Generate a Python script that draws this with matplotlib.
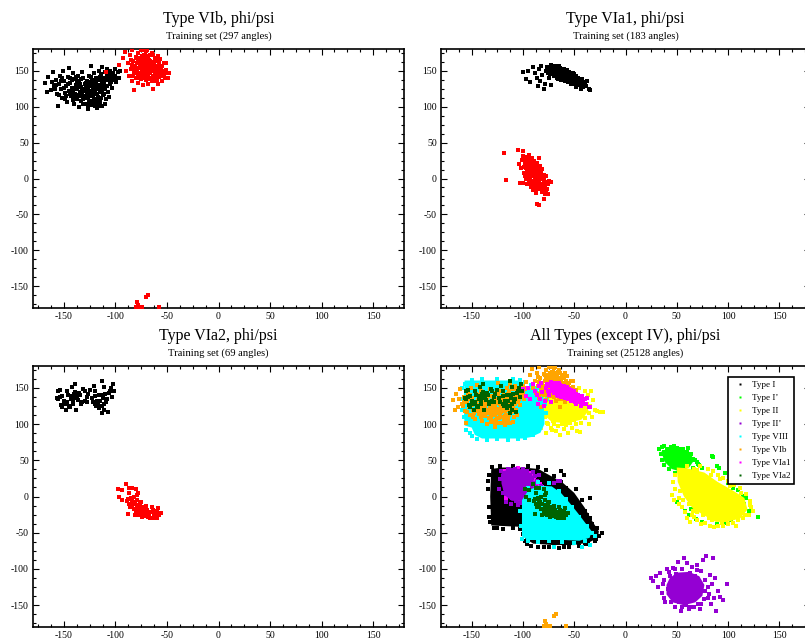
import matplotlib
matplotlib.use('Agg')
import matplotlib.pyplot as plt
from matplotlib.lines import Line2D
from matplotlib.ticker import MultipleLocator
import numpy as np

plt.rcParams['font.family'] = ['Liberation Serif', 'DejaVu Serif']
plt.rcParams['axes.unicode_minus'] = False

# ---- turn VIb (297 angles): residue i+1 (black) and i+2 (red)
vib_i1 = [(-168,133),(-165,141),(-163,123),(-161,148),(-160,128),(-158,137),(-157,118),(-156,101),(-155,131),(-154,143),
          (-153,124),(-152,112),(-151,150),(-150,136),(-149,119),(-148,128),(-147,107),(-146,141),(-145,154),(-145,122),
          (-144,133),(-143,114),(-142,126),(-141,146),(-140,104),(-140,138),(-139,118),(-138,130),(-137,124),(-137,111),
          (-136,142),(-135,135),(-135,100),(-134,120),(-133,127),(-133,108),(-132,148),(-131,115),(-131,139),(-130,131),
          (-130,122),(-129,104),(-128,136),(-128,112),(-127,125),(-127,96),(-126,143),(-126,118),(-125,130),(-125,108),
          (-124,157),(-124,121),(-123,137),(-123,102),(-122,114),(-122,127),(-121,146),(-121,110),(-120,133),(-120,119),
          (-119,105),(-119,140),(-118,124),(-118,98),(-117,130),(-117,113),(-116,150),(-116,137),(-115,120),(-115,107),
          (-114,145),(-114,128),(-113,155),(-113,101),(-112,140),(-112,116),(-111,133),(-110,148),(-110,124),(-109,110),
          (-108,142),(-108,152),(-107,137),(-106,145),(-105,131),(-105,150),(-104,140),(-103,126),(-102,147),(-101,137),
          (-100,152),(-100,143),(-99,134),(-98,148),(-97,139),(-96,150),
          (-143,120),(-139,126),(-136,116),(-134,131),(-132,119),(-129,127),(-127,113),(-124,134),(-121,123),(-119,129),
          (-141,109),(-137,136),(-131,103),(-126,106),(-123,118),(-118,111),(-116,101),(-113,123),(-130,115),(-135,127),
          (-144,140),(-148,115),(-152,140),(-159,125),(-162,134),(-166,120),(-110,103),(-112,130),(-107,120),(-106,113),
          (-158,130),(-155,116),(-153,135),(-150,126),(-149,110),(-146,131),(-144,118),(-142,137),(-141,121),(-139,112),
          (-138,141),(-136,128),(-134,115),(-133,138),(-132,125),(-131,110),(-129,133),(-128,120),(-127,101),(-126,129),
          (-125,115),(-124,141),(-123,108),(-122,133),(-121,117),(-120,101),(-119,135),(-118,118),(-117,106),(-116,126),
          (-115,141),(-114,112),(-113,134),(-111,118),(-109,137),(-108,128),(-106,140),(-104,134),(-102,142),(-100,138)]
vib_i2 = [(-97,158),(-93,167),(-91,176),(-90,149),(-88,160),(-87,143),(-86,171),(-85,152),(-84,136),(-84,178),
          (-83,163),(-82,123),(-82,147),(-81,157),(-80,169),(-80,140),(-79,152),(-78,175),(-78,133),(-77,161),
          (-77,146),(-76,155),(-76,168),(-75,138),(-75,179),(-74,150),(-74,162),(-73,143),(-73,130),(-72,157),
          (-72,172),(-71,148),(-71,165),(-70,137),(-70,154),(-70,177),(-69,160),(-69,144),(-68,132),(-68,151),
          (-68,170),(-67,156),(-67,140),(-66,163),(-66,147),(-65,175),(-65,135),(-64,152),(-64,124),(-63,160),
          (-63,143),(-62,168),(-62,149),(-61,138),(-61,156),(-60,146),(-60,163),(-59,131),(-58,153),(-58,141),
          (-57,166),(-56,148),(-55,136),(-55,157),(-54,144),(-53,160),(-52,139),(-51,151),(-50,146),(-49,140),
          (-51,160),(-48,147),(-109,148),
          (-79,160),(-76,147),(-74,170),(-72,139),(-71,158),(-69,166),(-67,148),(-66,155),(-64,141),(-62,157),
          (-60,152),(-59,170),(-77,140),(-73,155),(-70,145),(-68,162),(-65,158),(-63,135),(-75,165),(-82,155),
          (-80,146),(-78,163),(-69,178),(-73,178),(-85,165),(-66,172),(-61,142),(-57,150),(-60,136),(-83,142),
          (-84,158),(-81,149),(-79,168),(-78,143),(-77,153),(-76,160),(-75,145),(-74,157),(-73,166),(-72,150),
          (-71,141),(-70,160),(-69,152),(-68,145),(-67,165),(-66,138),(-65,150),(-64,162),(-63,153),(-62,144),
          (-61,165),(-60,157),(-59,147),(-58,160),(-57,143),(-56,155),(-54,150),(-53,142),(-71,172),(-64,171),
          (-79,-172),(-78,-176),(-76,-178),(-74,-178),(-70,-165),(-68,-162),(-58,-178),(-80,-178)]

# ---- turn VIa1 (183 angles)
via1_i1 = [(-100,148),(-97,138),(-95,150),(-93,134),(-90,155),(-88,146),(-86,140),(-85,128),(-84,152),(-83,135),
           (-82,157),(-81,144),(-80,125),(-79,132),(-78,150),(-77,155),(-76,146),(-75,140),(-74,152),(-73,130),
           (-73,158),(-72,147),(-71,153),(-70,143),(-70,150),(-69,156),(-68,145),(-67,149),(-67,140),(-66,153),
           (-65,146),(-65,157),(-64,142),(-64,150),(-63,137),(-63,147),(-62,152),(-62,143),(-61,148),(-61,139),
           (-60,145),(-60,152),(-59,141),(-59,136),(-58,148),(-58,143),(-57,139),(-57,146),(-56,134),(-56,142),
           (-55,148),(-55,138),(-54,144),(-54,135),(-53,140),(-53,147),(-52,137),(-52,143),(-51,133),(-51,140),
           (-50,145),(-50,136),(-49,141),(-49,131),(-48,138),(-48,127),(-47,134),(-46,140),(-46,130),(-45,136),
           (-44,132),(-43,125),(-42,138),(-41,130),(-40,134),(-39,128),(-38,136),(-36,124),(-35,123),(-68,153),
           (-66,138),(-62,147),(-57,151),(-53,132),(-59,149),(-64,146),(-70,147),(-55,143),(-60,139),(-50,140),
           (-72,151),(-69,149),(-67,144),(-66,150),(-64,154),(-63,142),(-61,144),(-60,149),(-58,138),(-57,143),
           (-56,147),(-55,140),(-54,138),(-53,144),(-52,140),(-51,146),(-50,133),(-49,137),(-48,142),(-47,130),
           (-46,136),(-45,132),(-44,137),(-43,130),(-42,134),(-41,127),(-58,145),(-62,140),(-65,149),(-74,145)]
via1_i2 = [(-119,35),(-117,-2),(-105,40),(-104,20),(-103,-6),(-102,14),(-101,26),(-100,-6),(-100,38),(-99,8),
           (-98,22),(-98,30),(-97,-1),(-97,15),(-96,27),(-96,5),(-95,19),(-95,-8),(-94,32),(-94,11),
           (-93,24),(-93,0),(-92,16),(-92,-12),(-92,29),(-91,7),(-91,21),(-90,-3),(-90,12),(-90,-16),
           (-89,25),(-89,3),(-88,18),(-88,-8),(-88,9),(-87,-20),(-87,14),(-87,0),(-86,22),(-86,-35),
           (-86,6),(-85,-12),(-85,11),(-84,-4),(-84,29),(-84,-37),(-83,17),(-83,-15),(-83,3),(-82,-8),
           (-82,8),(-81,-19),(-81,13),(-80,-2),(-80,-28),(-80,5),(-79,-12),(-79,-21),(-78,-5),(-78,3),
           (-77,-14),(-76,-22),(-76,-8),(-75,-3),(-73,-5),(-92,3),(-94,-2),(-96,12),(-90,20),(-89,-8),
           (-86,13),(-85,2),(-95,27),(-91,-6),(-88,-1),(-84,8),(-82,-1),(-98,4),(-93,7),(-87,-14),
           (-100,31),(-96,-7),
           (-97,20),(-95,8),(-94,16),(-93,-5),(-92,9),(-91,14),(-90,5),(-89,12),(-89,-12),(-88,2),
           (-87,7),(-86,-3),(-86,-10),(-85,16),(-84,-8),(-83,10),(-82,-12),(-81,0),(-80,-15),(-79,-6),
           (-78,-18),(-99,16),(-97,24),(-93,18),(-91,29)]

# ---- turn VIa2 (69 angles)
via2_i1 = [(-156,145),(-154,147),(-157,136),(-154,137),(-152,138),(-153,126),(-152,124),(-149,127),(-148,120),(-147,131),
           (-145,125),(-144,123),(-147,145),(-142,151),(-142,139),(-140,142),(-139,155),(-139,144),(-137,139),(-140,136),
           (-143,135),(-141,132),(-138,119),(-136,133),(-134,140),(-131,148),(-130,146),(-132,131),(-130,132),(-128,137),
           (-127,142),(-123,136),(-121,153),(-120,146),(-120,138),(-120,128),(-119,125),(-116,122),(-118,132),(-116,140),
           (-114,140),(-113,159),(-111,151),(-112,136),(-111,128),(-111,120),(-113,115),(-107,116),(-109,130),(-106,143),
           (-105,145),(-103,137),(-102,155),(-101,145),(-108,135),(-115,132),
           (-146,140),(-133,128),(-125,147),(-150,132),(-135,143),(-117,128),(-104,150),(-110,142),(-128,130),(-141,128),
           (-122,131),(-156,134),(-113,125)]
via2_i2 = [(-90,17),(-98,11),(-94,9),(-87,12),(-84,12),(-80,11),(-87,5),(-82,0),(-79,2),(-78,5),
           (-97,-1),(-94,-5),(-88,-3),(-84,-6),(-79,-5),(-75,-7),(-87,-11),(-84,-12),(-81,-11),(-79,-12),
           (-76,-13),(-74,-15),(-86,-15),(-82,-17),(-79,-17),(-77,-19),(-74,-18),(-72,-17),(-69,-19),(-71,-22),
           (-68,-21),(-79,-23),(-75,-24),(-72,-24),(-70,-25),(-67,-24),(-88,-24),(-81,-26),(-77,-26),(-74,-28),
           (-71,-27),(-68,-28),(-65,-15),(-64,-18),(-61,-20),(-63,-23),(-60,-22),(-58,-24),(-56,-23),(-63,-26),
           (-61,-27),(-58,-26),(-63,-30),(-60,-30),(-66,-29),(-61,-29),(-59,-16),
           (-83,-8),(-77,-15),(-73,-20),(-80,-20),(-70,-13),(-85,-2),(-76,-9),(-67,-27),(-62,-25),(-78,-24),
           (-89,-6),(-66,-22)]

# ---- all types: dense cores (outlines) and scattered points
typeI_core = [(-131,38),(-120,40),(-100,40),(-85,38),(-75,30),(-62,20),(-50,5),(-40,-15),(-32,-35),(-26,-48),
              (-27,-57),(-35,-63),(-50,-67),(-70,-67),(-90,-65),(-98,-58),(-100,-42),(-115,-41),(-131,-40),(-132,0)]
typeI_pts = [(-133,30),(-134,10),(-133,-15),(-132,-35),(-128,-43),(-120,-45),(-110,-44),(-103,-45),(-100,-52),(-98,-62),
             (-92,-68),(-85,-70),(-75,-70),(-65,-71),(-55,-70),(-45,-68),(-37,-66),(-30,-62),(-26,-55),(-23,-50),
             (-28,-44),(-33,-38),(-35,-30),(-35,-2),(-40,-20),(-45,-10),(-52,0),(-58,12),(-63,20),(-63,35),
             (-70,28),(-78,36),(-85,41),(-95,42),(-110,42),(-122,42),(-130,41),(-60,30),(-48,10),(-42,-5),
             (-134,22),(-133,-28),(-125,-44),(-96,-66),(-80,-69),(-60,-69),(-40,-66),(-29,-58),(-31,-45),(-38,-25)]
typeI1_core = [(35,62),(45,68),(55,66),(63,60),(67,50),(62,40),(52,35),(45,38),(38,48)]
typeI1_pts = [(33,65),(35,58),(36,68),(38,62),(40,66),(42,55),(44,68),(47,70),(50,67),(53,65),
              (56,66),(58,60),(60,62),(64,58),(66,52),(68,50),(70,47),(66,40),(60,34),(54,32),
              (48,33),(42,38),(38,44),(36,50),(72,44),(75,40),(38,70),(61,67),
              (50,-8),(64,-17),(68,-19),(73,-18),(81,-20),(89,-38),(98,-36),(110,-27),(116,-11),(115,1),
              (110,9),(97,33),(84,56),(89,42),(71,45),(129,-28),(69,-31),(85,54),(91,40),(75,-35),
              (103,-32),(120,-20),(118,-2),(58,-20),(62,-25),(105,12),(100,18)]
typeII_core_top = [(-80,142),(-65,146),(-50,142),(-40,132),(-36,118),(-43,106),(-58,101),(-72,103),(-80,113),(-83,130)]
typeII_core_right = [(50,40),(60,39),(77,33),(90,20),(105,8),(116,-2),(119,-18),(112,-30),(100,-35),(88,-35),
                     (78,-27),(66,-17),(57,0),(51,20)]
typeII_pts = [(-85,120),(-84,105),(-82,95),(-80,140),(-79,110),(-78,88),(-76,100),(-75,148),(-73,95),(-72,92),
              (-70,100),(-68,90),(-66,97),(-64,85),(-62,100),(-60,93),(-58,98),(-56,88),(-54,102),(-52,95),
              (-50,105),(-48,100),(-47,90),(-45,112),(-43,102),(-42,120),(-40,108),(-38,128),(-36,115),(-35,125),
              (-33,110),(-32,133),(-30,120),(-28,118),(-25,116),(-22,116),(-37,140),(-34,145),(-40,146),(-45,150),
              (-87,133),(-88,113),(-83,150),(-74,150),(-36,100),(-44,89),(-57,104),(-65,106),(-71,104),(-77,102),
              (45,2),(47,-5),(48,10),(52,-10),(55,-15),(58,-22),(60,-30),(63,-35),(67,-28),(70,-33),
              (74,-38),(78,-36),(82,-40),(86,-42),(90,-40),(95,-40),(100,-38),(105,-36),(110,-33),(115,-30),
              (120,-25),(122,-15),(121,-6),(118,4),(112,12),(106,16),(100,22),(95,26),(90,30),(85,35),
              (80,38),(73,42),(67,38),(108,-40),(98,-33),(92,-28),(84,-32),(76,-25),(66,-20),(56,-5),
              (46,20),(48,30),(53,8),(55,30),(62,-10),(70,-22),(81,-30),(94,-37),(104,-30),(117,-26),
              (121,-12),(113,5),(102,14),(92,24),(83,30),(70,36),(60,42),(124,-20),(65,-26),(52,-2)]
typeII2_core_left = [(-121,34),(-110,39),(-99,37),(-91,30),(-89,16),(-93,3),(-101,-6),(-111,-6),(-118,2),(-121,18)]
typeII2_core = [(43,-113),(50,-105),(62,-104),(72,-110),(77,-122),(75,-137),(68,-146),(57,-150),(46,-146),(40,-135),(40,-122)]
typeII2_pts = [(25,-113),(27,-117),(30,-110),(32,-125),(34,-105),(36,-133),(38,-115),(38,-140),(40,-100),(41,-128),
               (43,-110),(44,-145),(45,-120),(46,-98),(47,-135),(48,-152),(49,-107),(50,-128),(51,-90),(52,-145),
               (53,-115),(54,-158),(55,-100),(56,-138),(57,-85),(58,-120),(59,-150),(60,-92),(61,-132),(62,-155),
               (63,-105),(64,-143),(65,-97),(66,-125),(67,-152),(68,-110),(69,-138),(70,-95),(71,-148),(72,-118),
               (73,-155),(74,-103),(75,-130),(76,-88),(77,-142),(78,-115),(79,-82),(80,-125),(81,-135),(82,-108),
               (83,-148),(84,-120),(85,-85),(86,-140),(87,-113),(88,-158),(90,-130),(92,-138),(95,-143),(99,-120),
               (37,-120),(39,-145),(42,-104),(48,-100),(55,-153),(63,-152),(70,-102),(78,-130),(80,-140),(74,-148),
               (-121,35),(-120,28),(-119,20),(-118,12),(-118,33),(-117,4),(-116,25),(-115,38),(-115,16),(-114,30),
               (-113,8),(-113,22),(-112,36),(-111,14),(-111,-2),(-110,27),(-110,32),(-109,18),(-109,6),(-108,38),
               (-108,24),(-107,11),(-107,-6),(-106,30),(-106,19),(-105,35),(-105,3),(-104,26),(-104,14),(-103,-9),
               (-103,21),(-102,33),(-102,8),(-101,28),(-101,16),(-100,-3),(-100,38),(-99,23),(-99,11),(-98,31),
               (-98,4),(-97,18),(-97,-10),(-96,26),(-96,35),(-95,13),(-95,-4),(-94,21),(-93,30),(-93,7),
               (-92,16),(-91,-1),(-91,25),(-90,34),(-90,10),(-89,19),(-88,3),(-88,28),(-87,13),(-86,22),
               (-85,6),(-84,30),(-117,-8),(-112,-10),(-105,-12),(-99,-14),(-94,-12),(-123,10),(-122,24),(-120,5),
               (-66,21),(-64,22),(-82,15),(-80,-5),(-78,2),(-84,-10),(-76,10),(-72,-8),(-70,18),(-106,0)]
typeVIII_core_top = [(-157,160),(-103,160),(-100,152),(-88,150),(-80,140),(-79,100),(-83,88),(-92,82),(-100,80),
                     (-140,80),(-147,85),(-150,95),(-157,98),(-158,130)]
typeVIII_core_low = [(-101,-5),(-95,8),(-85,15),(-72,14),(-63,5),(-55,-8),(-47,-22),(-40,-35),(-33,-48),(-35,-57),
                     (-45,-61),(-60,-60),(-80,-60),(-95,-60),(-101,-55)]
typeVIII_pts = [(-160,150),(-158,110),(-156,92),(-155,102),(-152,88),(-150,83),(-145,80),(-135,78),(-125,79),(-115,78),
                (-105,79),(-98,81),(-90,85),(-85,92),(-81,105),(-78,115),(-79,128),(-82,145),(-86,150),(-92,154),
                (-98,158),(-103,161),(-110,162),(-125,162),(-140,162),(-150,161),(-157,155),(-159,135),(-160,120),(-77,135),
                (-103,-20),(-102,-40),(-101,-58),(-95,-62),(-85,-63),(-75,-62),(-62,-63),(-50,-64),(-40,-62),(-35,-67),
                (-30,-55),(-33,-50),(-38,-40),(-45,-28),(-52,-15),(-58,-3),(-65,8),(-75,18),(-85,20),(-95,12),
                (-70,-70),(-42,-70)]

panels = [
    ('Type VIb, phi/psi', 'Training set (297 angles)', vib_i1, vib_i2),
    ('Type VIa1, phi/psi', 'Training set (183 angles)', via1_i1, via1_i2),
    ('Type VIa2, phi/psi', 'Training set (69 angles)', via2_i1, via2_i2),
]
legend_names = ['Type I', 'Type I\u2019', 'Type II', 'Type II\u2019', 'Type VIII', 'Type VIb', 'Type VIa1', 'Type VIa2']
legend_colors = ['black', '#00ff00', '#ffff00', '#9400d3', '#00ffff', '#ffa500', '#ff00ff', '#006400']

MS = 5


def style_axes(ax):
    ax.set_xlim(-180, 180)
    ax.set_ylim(-180, 180)
    ax.xaxis.set_major_locator(MultipleLocator(50))
    ax.yaxis.set_major_locator(MultipleLocator(50))
    ax.xaxis.set_minor_locator(MultipleLocator(12.5))
    ax.yaxis.set_minor_locator(MultipleLocator(12.5))
    ax.tick_params(which='both', direction='in', top=True, right=True, width=0.8, labelsize=7, pad=3)
    ax.tick_params(which='major', length=4)
    ax.tick_params(which='minor', length=2)
    for s in ax.spines.values():
        s.set_linewidth(1.2)


def add_titles(ax, title, subtitle):
    ax.annotate(title, xy=(0.5, 1), xycoords='axes fraction', xytext=(0, 30), textcoords='offset pixels',
                ha='center', va='center', fontsize=11.5)
    ax.annotate(subtitle, xy=(0.5, 1), xycoords='axes fraction', xytext=(0, 13), textcoords='offset pixels',
                ha='center', va='center', fontsize=7.6)


def dots(ax, pts, color, z):
    a = np.array(pts, dtype=float)
    ax.scatter(a[:, 0], a[:, 1], s=MS, marker='s', c=color, linewidths=0, zorder=z)


def blob(ax, poly, color, z):
    a = np.array(poly, dtype=float)
    ax.fill(a[:, 0], a[:, 1], color=color, lw=0, zorder=z)


fig = plt.figure(figsize=(8.05, 6.4), dpi=100)
boxes = [
    [33 / 805, 332 / 640, 371 / 805, 259 / 640],
    [441 / 805, 332 / 640, 369 / 805, 259 / 640],
    [33 / 805, 13 / 640, 371 / 805, 261 / 640],
    [441 / 805, 13 / 640, 369 / 805, 261 / 640],
]
axes = [fig.add_axes(b) for b in boxes]

for ax, (title, sub, first, second) in zip(axes[:3], panels):
    style_axes(ax)
    add_titles(ax, title, sub)
    dots(ax, first, 'black', 3)
    dots(ax, second, 'red', 3)

ax = axes[3]
style_axes(ax)
add_titles(ax, 'All Types (except IV), phi/psi', 'Training set (25128 angles)')
c = dict(zip(legend_names, legend_colors))
blob(ax, typeI_core, c['Type I'], 2)
dots(ax, typeI_pts, c['Type I'], 2.1)
blob(ax, typeI1_core, c['Type I\u2019'], 2.2)
dots(ax, typeI1_pts, c['Type I\u2019'], 2.2)
blob(ax, typeII_core_top, c['Type II'], 2.4)
blob(ax, typeII_core_right, c['Type II'], 2.4)
dots(ax, typeII_pts, c['Type II'], 2.4)
# VIa1 i+2 cloud sits underneath the II' points in the reference
dots(ax, via1_i2, c['Type VIa1'], 2.5)
blob(ax, typeII2_core_left, c['Type II\u2019'], 2.6)
blob(ax, typeII2_core, c['Type II\u2019'], 2.6)
dots(ax, typeII2_pts, c['Type II\u2019'], 2.6)
blob(ax, typeVIII_core_top, c['Type VIII'], 2.8)
blob(ax, typeVIII_core_low, c['Type VIII'], 2.8)
dots(ax, typeVIII_pts, c['Type VIII'], 2.8)
dots(ax, vib_i1 + vib_i2, c['Type VIb'], 3.0)
dots(ax, via1_i1, c['Type VIa1'], 3.2)
dots(ax, via2_i1 + via2_i2, c['Type VIa2'], 3.4)

handles = [Line2D([], [], marker='s', ls='none', ms=2, mec='none', mfc=col) for col in legend_colors]
leg = ax.legend(handles, legend_names, loc='upper left', bbox_to_anchor=(0.778, 0.957), fontsize=6.6,
                frameon=True, fancybox=False, framealpha=1, edgecolor='black', borderpad=0.4,
                handlelength=1.9, handletextpad=0.3, labelspacing=0.5, borderaxespad=0)
leg.get_frame().set_linewidth(1.2)
leg.set_zorder(10)

fig.savefig('out.png', dpi=100)
